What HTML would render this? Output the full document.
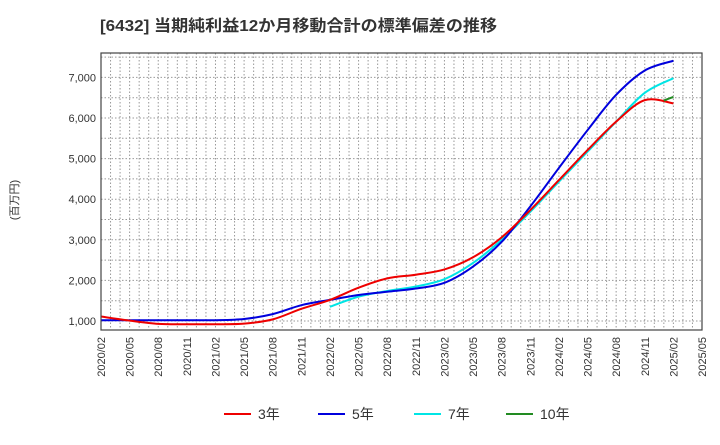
<!DOCTYPE html>
<html><head><meta charset="utf-8"><style>
body{margin:0;background:#fff;font-family:"Liberation Sans","Noto Sans CJK JP",sans-serif;}
svg text{font-family:"Liberation Sans","Noto Sans CJK JP",sans-serif;}
</style></head><body>
<svg id="c" width="720" height="440" xmlns="http://www.w3.org/2000/svg">
<text x="100" y="31" font-size="16" font-weight="bold" fill="#333" textLength="397" lengthAdjust="spacingAndGlyphs">[6432]  当期純利益12か月移動合計の標準偏差の推移</text>
<text transform="translate(18,200) rotate(-90)" font-size="11" text-anchor="middle" fill="#333">(百万円)</text>
<g id="grid"></g><g id="series"></g><g id="axes"></g><g id="legend"></g>
</svg>
<script>
const months = ["2020/02","2020/05","2020/08","2020/11","2021/02","2021/05","2021/08","2021/11","2022/02","2022/05","2022/08","2022/11","2023/02","2023/05","2023/08","2023/11","2024/02","2024/05","2024/08","2024/11","2025/02"];
const s3 = [1110,1010,930,920,920,935,1040,1300,1520,1820,2050,2140,2270,2570,3060,3730,4470,5210,5910,6440,6360];
const s5 = [1020,1020,1020,1020,1020,1050,1170,1390,1520,1640,1720,1800,1940,2340,2950,3820,4770,5700,6570,7170,7410];
const s7Months = ["2022/02","2022/05","2022/08","2022/11","2023/02","2023/05","2023/08","2023/11","2024/02","2024/05","2024/08","2024/11","2025/02"];
const s7 = [1350,1600,1740,1850,2030,2430,3000,3690,4430,5170,5910,6620,6980];
const s10Months = ["2025/01","2025/02"];
const s10 = [6430,6520];
const yTicks = [1000,2000,3000,4000,5000,6000,7000];
const xTickLabels = ["2020/02","2020/05","2020/08","2020/11","2021/02","2021/05","2021/08","2021/11","2022/02","2022/05","2022/08","2022/11","2023/02","2023/05","2023/08","2023/11","2024/02","2024/05","2024/08","2024/11","2025/02","2025/05"];

const L=101,R=702,T=53,B=330;
const m0=2020*12+1, mN=2025*12+4;
function mi(s){const p=s.split('/');return (+p[0])*12+(+p[1]-1);}
function X(s){return L+(mi(s)-m0)/(mN-m0)*(R-L);}
function Xm(m){return L+(m-m0)/(mN-m0)*(R-L);}
function Y(v){return 321-(v-1000)/1000*40.6;}
const NS="http://www.w3.org/2000/svg";
function el(t,a,p){const e=document.createElementNS(NS,t);for(const k in a)e.setAttribute(k,a[k]);p.appendChild(e);return e;}
const grid=document.getElementById('grid'),axes=document.getElementById('axes'),ser=document.getElementById('series'),leg=document.getElementById('legend');
for(let m=m0+1;m<mN;m++){const x=Xm(m);
 const g=el('line',{x1:x,x2:x,y1:T,y2:B,stroke:'#999','stroke-dasharray':'1.5,2','stroke-width':1},grid);
 
 }
for(let v=1000;v<=7500;v+=500){const y=Y(v);
 const g=el('line',{x1:L,x2:R,y1:y,y2:y,stroke:'#999','stroke-dasharray':'1.5,2','stroke-width':1},grid);
 
 }
const fr=el('rect',{x:L,y:T,width:R-L,height:B-T,fill:'none',stroke:'#444','stroke-width':1.2},axes);


yTicks.forEach(v=>{const t=el('text',{x:L-5,y:Y(v)+4,'font-size':11,'text-anchor':'end',fill:'#333'},axes);t.textContent=v.toLocaleString('en-US');
 
 });
xTickLabels.forEach(s=>{const x=X(s);const t=el('text',{transform:`translate(${x+4},${B+7}) rotate(-90)`,'font-size':11,'text-anchor':'end',fill:'#333'},axes);t.textContent=s;
 
 });
function path(xs,vs){const p=xs.map((s,i)=>[X(s),Y(vs[i])]);let d=`M${p[0][0]},${p[0][1]}`;
 for(let i=0;i<p.length-1;i++){const p0=p[i-1]||p[i],p1=p[i],p2=p[i+1],p3=p[i+2]||p2;
  d+=` C${p1[0]+(p2[0]-p0[0])/6},${p1[1]+(p2[1]-p0[1])/6} ${p2[0]-(p3[0]-p1[0])/6},${p2[1]-(p3[1]-p1[1])/6} ${p2[0]},${p2[1]}`;}
 return d;}
[[s7Months,s7,'#00e5e5','series-7y'],[months,s5,'#0000dd','series-5y'],[months,s3,'#ee0000','series-3y'],[s10Months,s10,'#228b22','series-10y']].forEach(([xs,vs,c,n])=>{
 const p=el('path',{d:path(xs,vs),fill:'none',stroke:c,'stroke-width':2},ser);
 
 });
[['3年','#ee0000',224],['5年','#0000dd',318],['7年','#00e5e5',414],['10年','#228b22',506]].forEach(([t,c,x])=>{
 const l=el('line',{x1:x,x2:x+27,y1:414,y2:414,stroke:c,'stroke-width':2},leg);
 
 
 const tx=el('text',{x:x+34,y:419,'font-size':14,fill:'#333'},leg);tx.textContent=t;
 
 });
</script>
</body></html>
